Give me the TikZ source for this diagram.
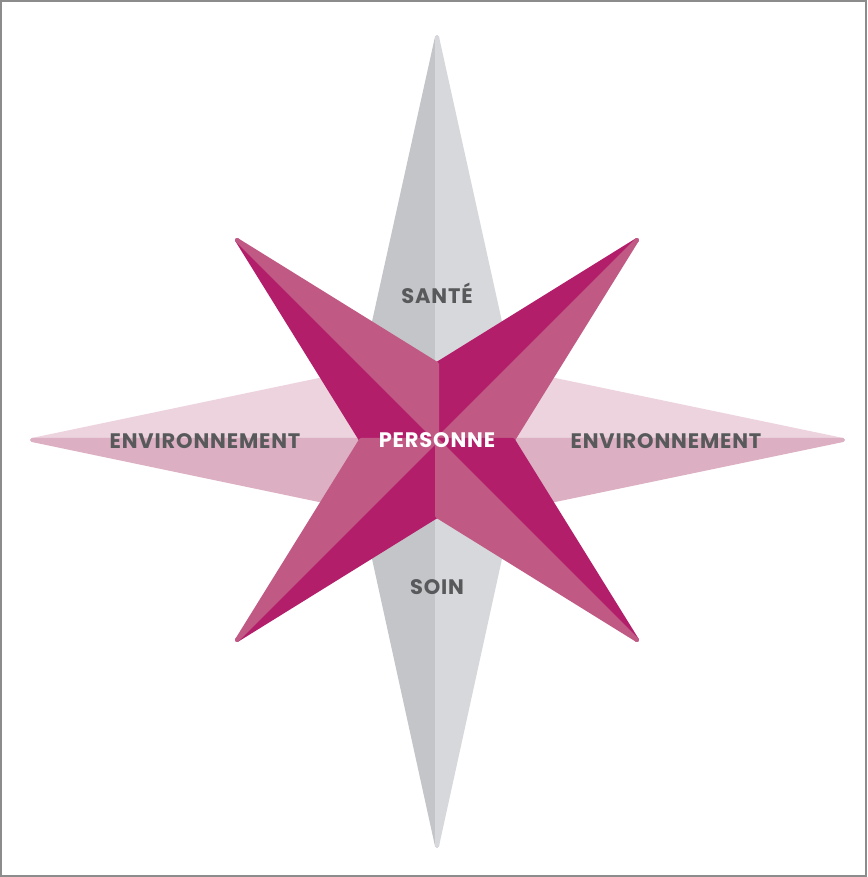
\documentclass[tikz,border=0pt]{standalone}
\usepackage{fontspec}
\setmainfont{Poppins}[LetterSpace=4]
\definecolor{magdark}{HTML}{B31E6B}
\definecolor{maglight}{HTML}{C05A85}
\definecolor{graydark}{HTML}{C4C5C9}
\definecolor{graylight}{HTML}{D7D8DB}
\definecolor{pinklight}{HTML}{ECD3DE}
\definecolor{pinkdark}{HTML}{DCAFC2}
\definecolor{labelgray}{HTML}{58595B}
\definecolor{framegray}{HTML}{8C8C8C}
\tikzset{
  arm/.style={fill=#1, draw=#1, line width=4pt, line join=round},
  lbl/.style={font=\fontsize{21}{21}\selectfont\bfseries, text=labelgray, inner sep=0pt},
  center lbl/.style={lbl, text=white}
}
\begin{document}
\begin{tikzpicture}[x=1pt, y=1pt]
        \useasboundingbox (-437,-437) rectangle (430,440);
        \draw[framegray, line width=2.5pt] (-436,-436) rectangle (429,439);

        % vertical arms (grey), sides meet the diagonals
        \path[arm=graydark] (0,403) -- (-73,73) -- (0,0) -- cycle;
        \path[arm=graylight] (0,403) -- (73,73) -- (0,0) -- cycle;
        \path[arm=graydark] (0,-406) -- (-73,-73) -- (0,0) -- cycle;
        \path[arm=graylight] (0,-406) -- (73,-73) -- (0,0) -- cycle;

        % horizontal arms (pale pink)
        \path[arm=pinklight] (-405,0) -- (-70,70) -- (0,0) -- cycle;
        \path[arm=pinkdark] (-405,0) -- (-70,-70) -- (0,0) -- cycle;
        \path[arm=pinklight] (406,0) -- (70,70) -- (0,0) -- cycle;
        \path[arm=pinkdark] (406,0) -- (70,-70) -- (0,0) -- cycle;

        % diagonal arms
        \foreach \a in {45,135,225,315} {
            \path[arm=magdark] (0,0) -- (\a:283) -- (\a+45:76) -- cycle;
            \path[arm=maglight] (0,0) -- (\a:283) -- (\a-45:76) -- cycle;
        }

        \node[lbl] (sante) at (0,147) {SANTÉ};
        \node[lbl] (soin) at (0,-147) {SOIN};
        \node[lbl] (envleft) at (-232,-1) {ENVIRONNEMENT};
        \node[lbl] (envright) at (229,-1) {ENVIRONNEMENT};
        \node[center lbl] (personne) at (0,0) {PERSONNE};
    \end{tikzpicture}
\end{document}
